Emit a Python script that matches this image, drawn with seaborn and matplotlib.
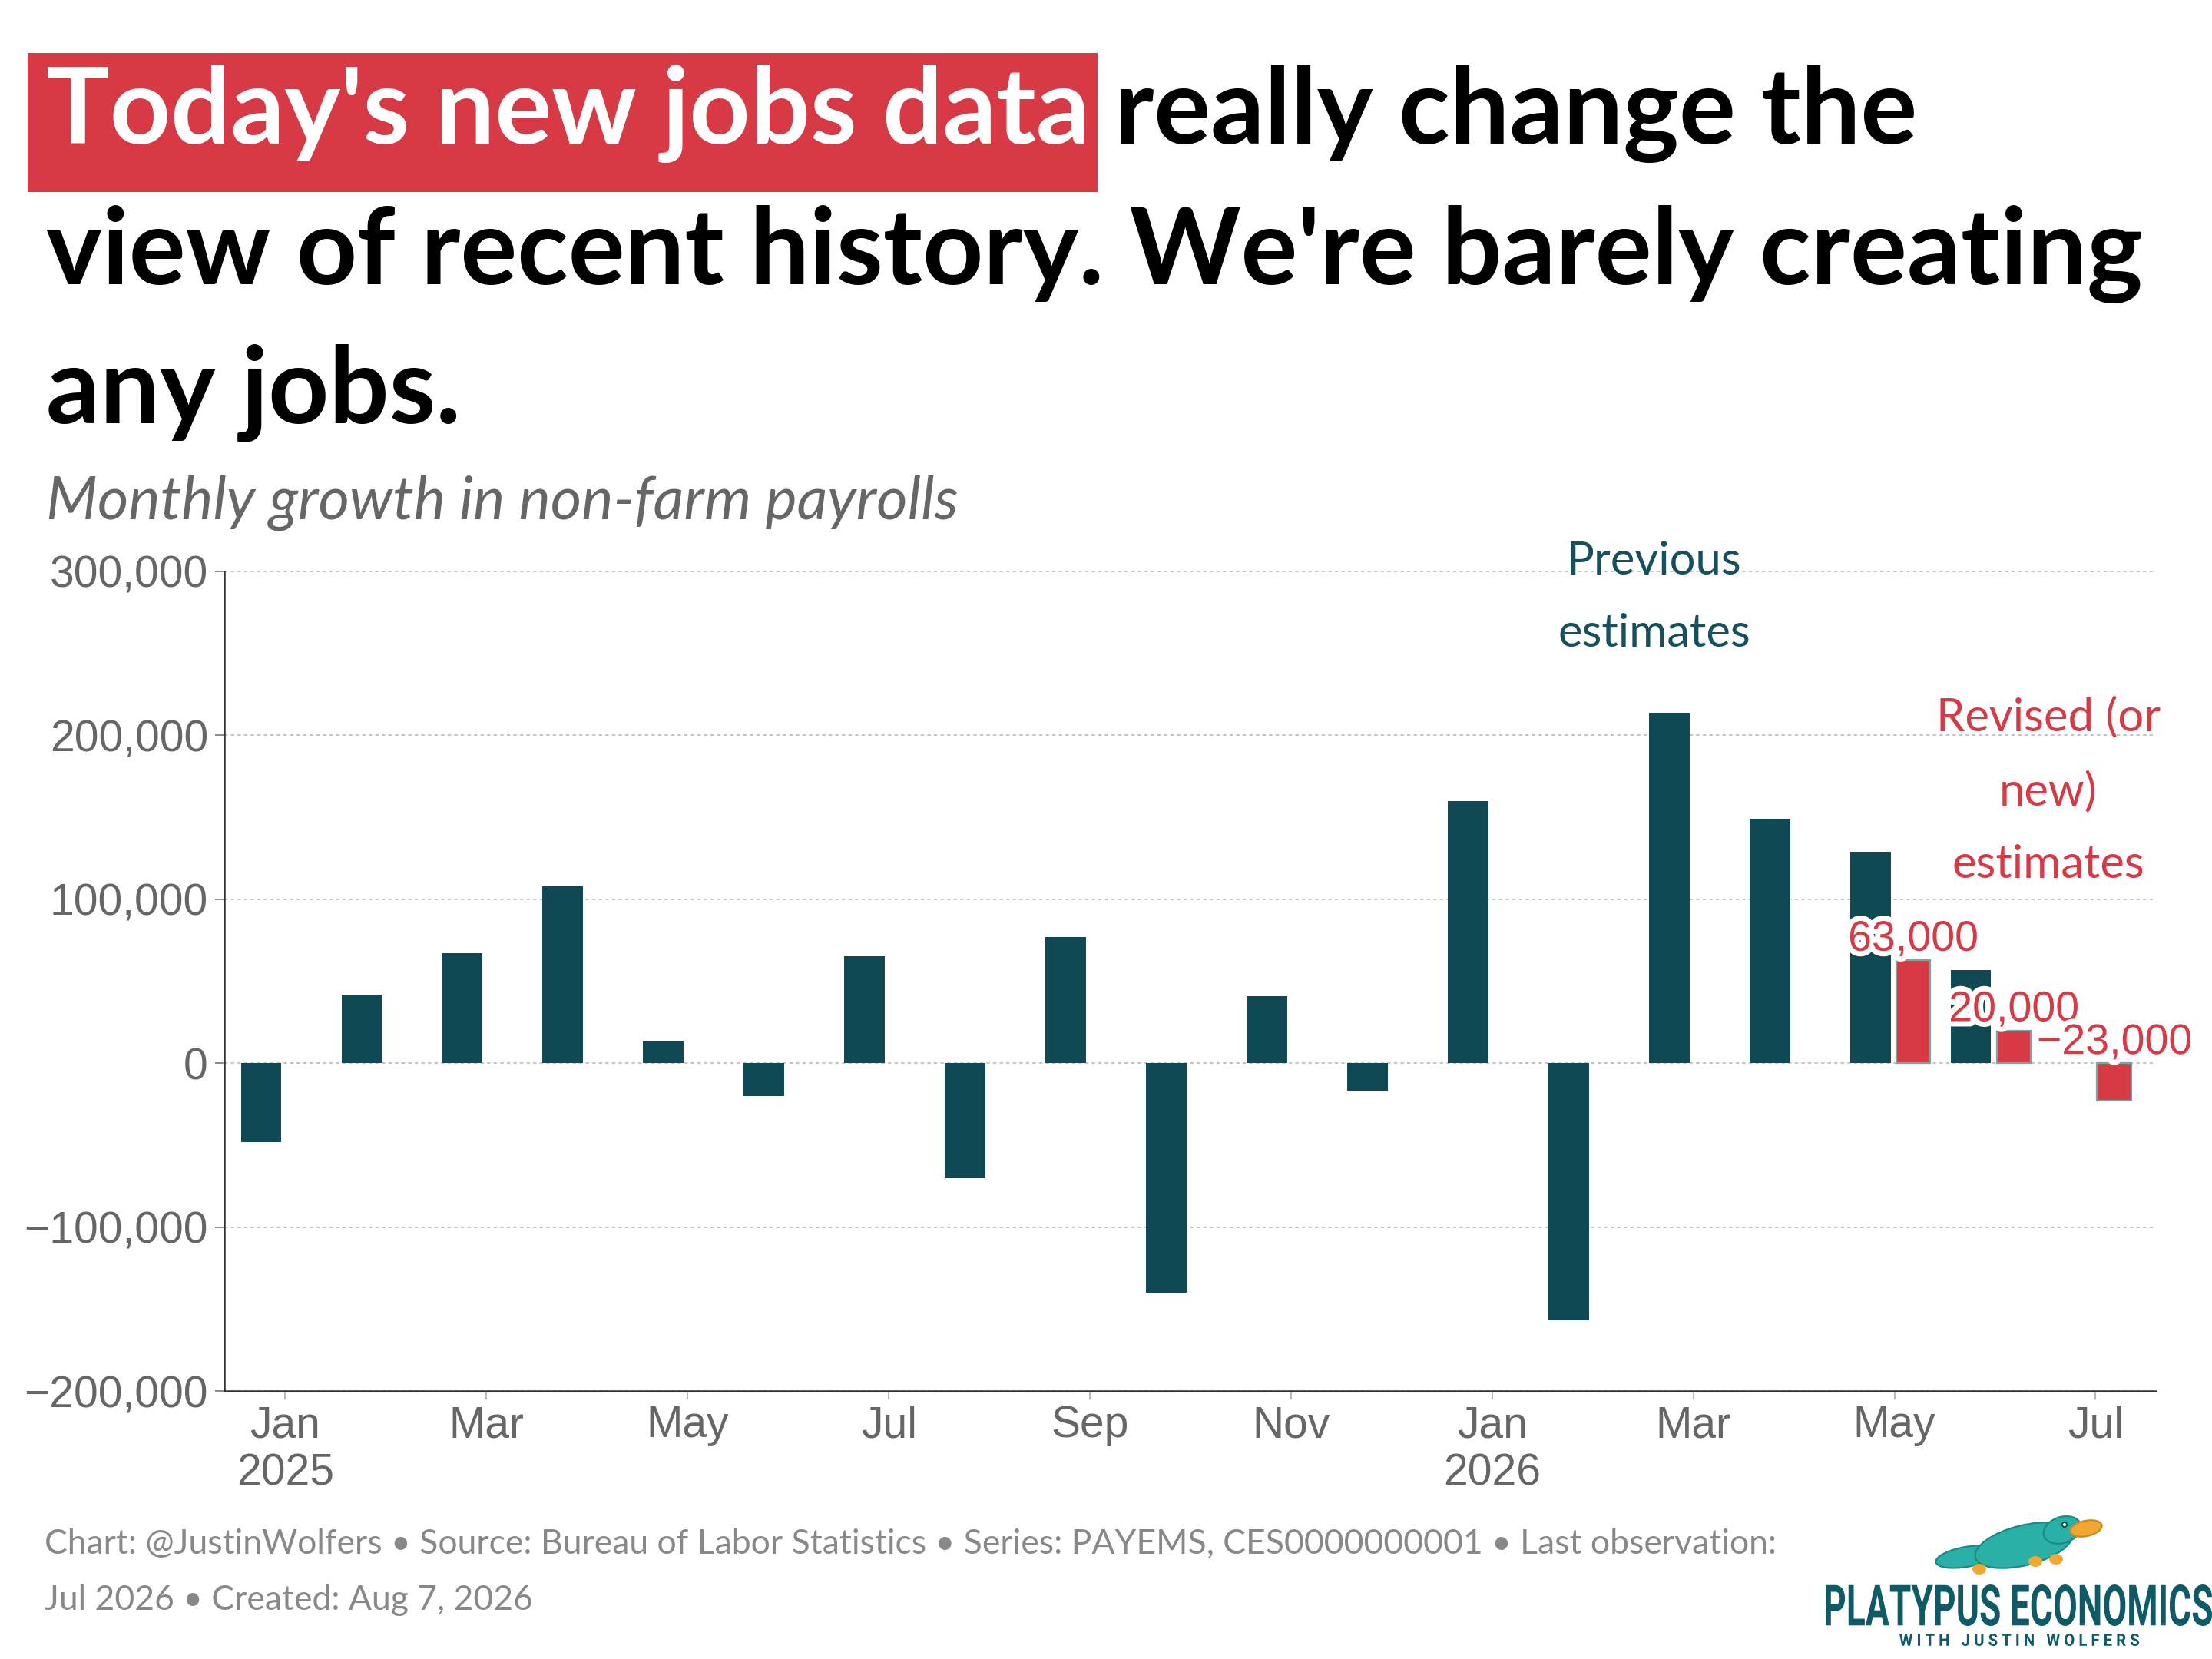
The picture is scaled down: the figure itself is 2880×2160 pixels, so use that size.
import matplotlib
matplotlib.use("Agg")
import matplotlib.pyplot as plt
import matplotlib.patheffects as pe
from matplotlib.patches import Rectangle, Ellipse, PathPatch
from matplotlib.textpath import TextPath
from matplotlib.font_manager import FontProperties
from matplotlib.transforms import Affine2D
from matplotlib.ticker import FuncFormatter
from matplotlib.colors import to_rgba
import numpy as np
import pandas as pd
import seaborn as sns

# ---------------- data ----------------
months = ["Jan 2025", "Feb 2025", "Mar 2025", "Apr 2025", "May 2025", "Jun 2025",
          "Jul 2025", "Aug 2025", "Sep 2025", "Oct 2025", "Nov 2025", "Dec 2025",
          "Jan 2026", "Feb 2026", "Mar 2026", "Apr 2026", "May 2026", "Jun 2026",
          "Jul 2026"]
previous_months = months[:18]
previous = [-48000, 42000, 67000, 108000, 13000, -20000, 65000, -70000, 77000,
            -140000, 41000, -17000, 160000, -157000, 214000, 149000, 129000, 57000]
revised_months = ["May 2026", "Jun 2026", "Jul 2026"]
revised = [63000, 20000, -23000]
tick_idx = [0, 2, 4, 6, 8, 10, 12, 14, 16, 18]
tick_labels = ["Jan\n2025", "Mar", "May", "Jul", "Sep", "Nov", "Jan\n2026",
               "Mar", "May", "Jul"]
yticks = [-200000, -100000, 0, 100000, 200000, 300000]

title_hl = "Today's new jobs data"
title_rest = "really change the"
title_l2 = "view of recent history. We're barely creating"
title_l3 = "any jobs."
subtitle = "Monthly growth in non-farm payrolls"
footer1 = ("Chart: @JustinWolfers \u2022 Source: Bureau of Labor Statistics \u2022 "
           "Series: PAYEMS, CES0000000001 \u2022 Last observation:")
footer2 = "Jul 2026 \u2022 Created: Aug 7, 2026"

TEAL = "#0f4a54"
RED = "#d83a45"
GRAY = "#666666"

df = pd.DataFrame({
    "month": previous_months + revised_months,
    "value": previous + revised,
    "estimate": ["Previous"] * len(previous) + ["Revised"] * len(revised),
})

# ---------------- style ----------------
sns.set_style("white")
plt.rcParams["font.family"] = ["Liberation Sans", "DejaVu Sans"]

W, H = 2880, 2160
fig = plt.figure(figsize=(14.4, 10.8), dpi=200)
fig.patch.set_facecolor("white")

ax = fig.add_axes([292 / W, 1 - 1811 / H, (2807 - 292) / W, (1811 - 744) / H])

sns.barplot(data=df, x="month", y="value", hue="estimate", order=months,
            hue_order=["Previous", "Revised"],
            palette={"Previous": TEAL, "Revised": RED},
            dodge=True, width=0.96, gap=0.16, saturation=1, errorbar=None,
            legend=False, ax=ax, zorder=3)

red_rgba = to_rgba(RED)
red_patches = []
for p in ax.patches:
    if np.allclose(p.get_facecolor(), red_rgba, atol=0.02):
        p.set_x(p.get_x() - 0.023)
        p.set_width(0.34)
        p.set_edgecolor("#6aaba5")
        p.set_linewidth(0.8)
        red_patches.append(p)
    else:
        p.set_edgecolor("none")

red_patches.sort(key=lambda p: p.get_x())
for p, v in zip(red_patches, revised):
    cx = p.get_x() + p.get_width() / 2
    lab = f"{v:,}".replace("-", "\u2212")
    ax.text(cx, max(v, 0), lab, ha="center", va="bottom", fontsize=20,
            color=RED, zorder=5,
            path_effects=[pe.withStroke(linewidth=5, foreground="white")])

ax.set_xlim(-0.607, 18.6)
ax.set_ylim(-200000, 300000)
ax.set_yticks(yticks)
ax.yaxis.set_major_formatter(FuncFormatter(lambda v, _: f"{v:,.0f}".replace("-", "\u2212")))
ax.set_xticks(tick_idx)
ax.set_xticklabels(tick_labels)
ax.set_xlabel("")
ax.set_ylabel("")

ax.grid(axis="y", color="#c4c4c4", linestyle=(0, (2.2, 2.2)), linewidth=0.7, zorder=0)
ax.grid(axis="x", visible=False)
ax.set_axisbelow(True)
for s in ["top", "right"]:
    ax.spines[s].set_visible(False)
for s in ["left", "bottom"]:
    ax.spines[s].set_color("#333333")
    ax.spines[s].set_linewidth(0.9)

ax.tick_params(axis="y", length=4.4, width=0.6, color="#777777", labelcolor=GRAY,
               labelsize=20.5, pad=3.2, left=True)
ax.tick_params(axis="x", length=4.0, width=0.6, color="#aaaaaa", labelcolor=GRAY,
               labelsize=20.5, pad=2.5, bottom=True)

ax.text(13.61, 284000, "Previous\nestimates", ha="center", va="center",
        fontsize=21.5, family="Lato", color="#16505c", linespacing=1.9,
        clip_on=False, zorder=6)
ax.text(17.53, 166000, "Revised (or\nnew)\nestimates", ha="center", va="center",
        fontsize=21.5, family="Lato", color=RED, linespacing=1.9,
        clip_on=False, zorder=6)

# ---------------- overlay in pixel coords ----------------
ov = fig.add_axes([0, 0, 1, 1], zorder=10)
ov.set_xlim(0, W)
ov.set_ylim(H, 0)
ov.axis("off")
ov.patch.set_alpha(0)

TS = 49.7
t1 = ov.text(60, 187.5, title_hl, fontsize=TS, weight="bold", family="Lato",
             color="white", va="baseline", zorder=3)
fig.canvas.draw()
r = fig.canvas.get_renderer()
bb = t1.get_window_extent(r)
x_left, x_right = bb.x0, bb.x1
ov.add_patch(Rectangle((x_left - 24, 69), (x_right + 10) - (x_left - 24), 181,
                       facecolor=RED, edgecolor="none", zorder=1))
ov.text(x_right + 32, 187.5, title_rest, fontsize=TS, weight="bold", family="Lato",
        color="black", va="baseline", zorder=3)
ov.text(60, 370, title_l2, fontsize=TS, weight="bold", family="Lato",
        color="black", va="baseline")
ov.text(60, 551, title_l3, fontsize=TS, weight="bold", family="Lato",
        color="black", va="baseline")
ov.text(60, 676, subtitle, fontsize=28, style="italic", family="Lato",
        color=GRAY, va="baseline")

ov.text(58, 2023, footer1, fontsize=16, family="Lato", color="#888888", va="baseline")
ov.text(58, 2096, footer2, fontsize=16, family="Lato", color="#888888", va="baseline")


def fit_text(s, x0, x1, ytop, ybot, color, prop):
    tp = TextPath((0, 0), s, size=100, prop=prop)
    e = tp.get_extents()
    sx = (x1 - x0) / e.width
    sy = (ybot - ytop) / e.height
    tr = Affine2D().translate(-e.x0, -e.y0).scale(sx, -sy).translate(x0, ybot)
    ov.add_patch(PathPatch(tr.transform_path(tp), facecolor=color, edgecolor="none"))


logo_col = "#0e5a66"
fit_text("PLATYPUS ECONOMICS", 2377, 2880, 2063, 2117, logo_col,
         FontProperties(family="Roboto", weight="bold"))
fit_text("W I T H   J U S T I N   W O L F E R S", 2473, 2785, 2127, 2143, logo_col,
         FontProperties(family="Roboto", weight="bold"))

# simple platypus mark
body = "#2bb0a8"
bill = "#f0a830"
edge = "#1b8a84"
ov.add_patch(Ellipse((2560, 2027), 80, 26, angle=-10, facecolor=body, edgecolor=edge, lw=0.8))
ov.add_patch(Ellipse((2635, 2012), 130, 52, angle=-14, facecolor=body, edgecolor=edge, lw=0.8))
ov.add_patch(Ellipse((2685, 1992), 50, 34, angle=-18, facecolor=body, edgecolor=edge, lw=0.8))
ov.add_patch(Ellipse((2716, 1990), 42, 20, angle=-12, facecolor=bill, edgecolor="#c98a20", lw=0.8))
for fx, fy in [(2577, 2043), (2650, 2033), (2677, 2030)]:
    ov.add_patch(Ellipse((fx, fy), 18, 14, facecolor=bill, edgecolor="none"))
ov.add_patch(Ellipse((2688, 1985), 6, 6, facecolor="white", edgecolor="#0e3a40", lw=0.6))

fig.savefig("out.png", dpi=200, facecolor="white")
